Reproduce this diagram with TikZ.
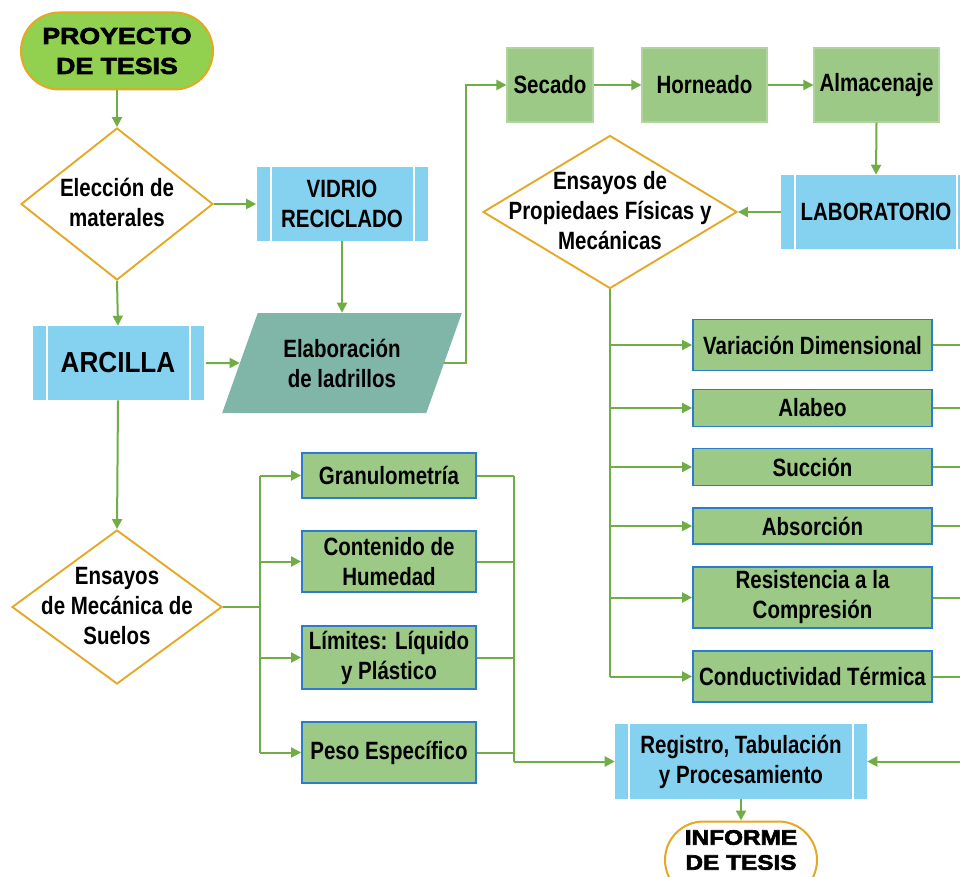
\documentclass[tikz,border=0pt]{standalone}
\usepackage{fontspec}
\setmainfont{Liberation Sans}[FakeStretch=0.82]
\newfontfamily\titlefont{Liberation Sans}[FakeStretch=1.16, BoldFeatures={FakeBold=3}]
\newfontfamily\widefont{Liberation Sans}[FakeStretch=0.9]
\usetikzlibrary{arrows.meta,shapes.geometric,shapes.misc,calc}
\newcommand{\pxu}[1]{#1*0.75pt}
\definecolor{lgreen}{HTML}{70AD47}
\definecolor{gold}{HTML}{E6A823}
\definecolor{tgreen}{HTML}{92D050}
\definecolor{pblue}{HTML}{85D1F0}
\definecolor{bgreen}{HTML}{9CC985}
\definecolor{bblue}{HTML}{2B7BD0}
\definecolor{tealc}{HTML}{7FB6A8}
\begin{document}
\begin{tikzpicture}[x=0.75pt,y=-0.75pt,
  every node/.style={inner sep=0pt, align=center, font=\fontsize{18.75pt}{22.5pt}\selectfont\bfseries},
  conn/.style={draw=lgreen, line width=1.5pt},
  arr/.style={conn, -{Triangle[length=7.5pt,width=7.5pt]}},
  term/.style={rounded rectangle, draw=gold, line width=1.5pt},
  ttext/.style={font=\titlefont\bfseries\fontsize{17.25pt}{22.5pt}\selectfont},
  dia/.style={diamond, draw=gold, line width=1.4pt, fill=white},
  pred/.style={fill=pblue, path picture={
    \draw[white,line width=1.5pt]
      ([xshift=10.5pt]path picture bounding box.north west) -- ([xshift=10.5pt]path picture bounding box.south west)
      ([xshift=-10.5pt]path picture bounding box.north east) -- ([xshift=-10.5pt]path picture bounding box.south east);}},
  gbox/.style={fill=bgreen, draw=bgreen!80!white, line width=0.8pt, minimum height={\pxu{74}}},
  tbox/.style={fill=bgreen, draw=bblue, line width=1.4pt, minimum width={\pxu{239}}},
  sbox/.style={fill=bgreen, draw=bblue, line width=1.4pt, minimum width={\pxu{174}}}
]
\clip (0,0) rectangle (960,877);
\fill[white] (0,0) rectangle (960,877);

% left column
\node[term, fill=tgreen, minimum width={\pxu{192}}, minimum height={\pxu{77}}] (proy) at (117,51) {};
\node[ttext] (proyt) at (117,51) {PROYECTO\\DE TESIS};
\node[dia, minimum width={\pxu{192}}, minimum height={\pxu{152}}] (d1) at (117,204) {};
\node (d1t) at (117,202) {Elección de\\materales};
\node[pred, minimum width={\pxu{171}}, minimum height={\pxu{74}}] (vid) at (342,204) {VIDRIO\\RECICLADO};
\node[pred, minimum width={\pxu{171}}, minimum height={\pxu{74}}, font=\widefont\bfseries\fontsize{21.75pt}{26pt}\selectfont] (arc) at (118,363) {ARCILLA};
\node[trapezium, trapezium left angle=63, trapezium right angle=117, trapezium stretches=true,
      fill=tealc, minimum width={\pxu{240}}, minimum height={\pxu{100}}] (elab) at (342,363) {Elaboración\\de ladrillos};
\node[dia, minimum width={\pxu{210}}, minimum height={\pxu{154}}] (d3) at (117,607) {};
\node (d3t) at (117,606) {Ensayos\\de Mecánica de\\Suelos};

% soil tests
\node[sbox, minimum height={\pxu{45}}] (gran) at (389,475.5) {Granulometría};
\node[sbox, minimum height={\pxu{61}}] (cont) at (389,561.5) {Contenido de\\Humedad};
\node[sbox, minimum height={\pxu{63}}] (lim) at (389,657.5) {Límites: Líquido\\y Plástico};
\node[sbox, minimum height={\pxu{61}}] (peso) at (389,752.5) {Peso Específico};

% top row
\node[gbox, minimum width={\pxu{86}}] (sec) at (550,85) {Secado};
\node[gbox, minimum width={\pxu{125}}] (hor) at (704.5,85) {Horneado};
\node[gbox, minimum width={\pxu{125}}] (alm) at (876.5,85) {Almacenaje};
\node[pred, minimum width={\pxu{190}}, minimum height={\pxu{74}}] (lab) at (876,212) {LABORATORIO};
\node[dia, minimum width={\pxu{254}}, minimum height={\pxu{153}}] (d2) at (610,212) {};
\node (d2t) at (610,211) {Ensayos de\\Propiedaes Físicas y\\Mecánicas};

% brick tests
\node[tbox, minimum height={\pxu{51}}] (vd) at (812.5,345) {Variación Dimensional};
\node[tbox, minimum height={\pxu{37}}] (ala) at (812.5,408) {Alabeo};
\node[tbox, minimum height={\pxu{37}}] (suc) at (812.5,467) {Succión};
\node[tbox, minimum height={\pxu{36}}] (abs) at (812.5,526) {Absorción};
\node[tbox, minimum height={\pxu{61}}] (res) at (812.5,597.5) {Resistencia a la\\Compresión};
\node[tbox, minimum height={\pxu{51}}] (con) at (812.5,676.5) {Conductividad Térmica};

% bottom
\node[pred, minimum width={\pxu{252}}, minimum height={\pxu{75}}] (reg) at (741,761.5) {Registro, Tabulación\\y Procesamiento};
\node[term, fill=white, minimum width={\pxu{152}}, minimum height={\pxu{77}}] (inf) at (741,860) {};
\node[ttext, font=\titlefont\bfseries\fontsize{15.75pt}{18.75pt}\selectfont] (inft) at (741,850) {INFORME\\DE TESIS};

% helper coordinates
\coordinate (j1) at (466,85);
\coordinate (b2) at (610,0);
\coordinate (b3) at (260,0);
\coordinate (b4) at (514,0);
\coordinate (rb) at (990,0);

% connectors
\draw[arr] (proy.south) -- (d1.north);
\draw[arr] (d1.east) -- (vid.west);
\draw[arr] (d1.south) -- (arc.north);
\draw[arr] (vid.south) -- (vid.south |- elab.north);
\draw[arr] ([xshift=1.5pt]arc.east) -- (elab.west);
\draw[arr] (elab.east) -| (j1) -- (sec.west);
\draw[arr] (sec.east) -- (hor.west);
\draw[arr] (hor.east) -- (alm.west);
\draw[arr] (alm.south) -- (lab.north);
\draw[arr] (lab.west) -- (d2.east);

\draw[conn] (d2.south) -- (b2 |- con);
\foreach \t in {vd,ala,suc,abs,res,con}{
  \draw[arr] (b2 |- \t) -- (\t.west);
  \draw[conn] (\t.east) -- (rb |- \t);
}
\draw[arr] (rb |- reg) -- (reg.east);

\draw[arr] (arc.south) -- (d3.north);
\draw[conn] (d3.east) -- (b3 |- d3.east);
\draw[conn] (b3 |- gran) -- (b3 |- peso);
\foreach \t in {gran,cont,lim,peso}{
  \draw[arr] (b3 |- \t) -- (\t.west);
  \draw[conn] (\t.east) -- (b4 |- \t);
}
\draw[conn] (b4 |- gran) -- (b4 |- reg);
\draw[arr] (b4 |- reg) -- (reg.west);
\draw[arr] (reg.south) -- (inf.north);
\end{tikzpicture}
\end{document}
